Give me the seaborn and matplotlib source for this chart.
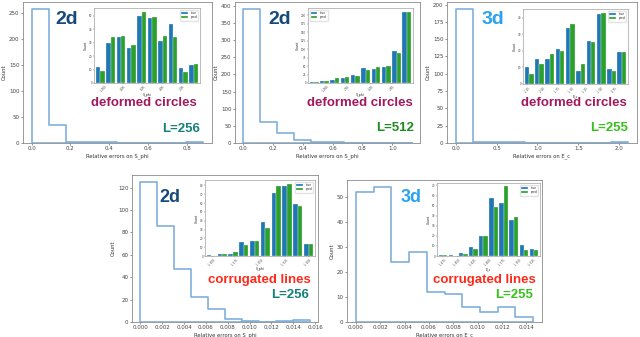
import numpy as np
import pandas as pd
import matplotlib
matplotlib.use("Agg")
import matplotlib.pyplot as plt
import seaborn as sns

# ---------------- data ----------------
# main histograms: counts per bin, upper edge of the binned range
h1_counts = [258, 35, 2, 2, 1, 0, 0, 0, 0, 1]
h1_max = 0.885
h2_counts = [392, 60, 28, 10, 3, 2, 1, 1, 0, 1]
h2_max = 1.13
h3_counts = [194, 2, 1, 1, 0, 0, 0, 0, 0, 1]
h3_max = 2.11
h4_counts = [125, 86, 47, 22, 12, 3, 1, 0, 1, 2]
h4_max = 0.0155
h5_counts = [52, 54, 24, 28, 12, 11, 6, 4, 6, 2]
h5_max = 0.01455

# inset grouped histograms (true vs pred)
i1_true = [12, 30, 34, 26, 50, 48, 31, 44, 11, 13]
i1_pred = [9, 34, 35, 28, 53, 49, 35, 34, 8, 14]
i1_ticks = ["-1000", "-800", "-600", "-400", "-200", "0"]
i2_true = [4, 7, 10, 16, 23, 45, 42, 47, 94, 210]
i2_pred = [2, 7, 14, 19, 20, 38, 46, 50, 90, 211]
i2_ticks = ["-1000", "-750", "-500", "-250", "0"]
i3_true = [10, 15, 15, 21, 34, 8, 26, 42, 9, 19]
i3_pred = [6, 12, 18, 20, 36, 12, 25, 43, 8, 19]
i3_ticks = ["-2.25", "-2.00", "-1.75", "-1.50", "-1.25", "-1.00", "-0.75", "-0.5"]
i4_true = [1, 2, 2, 16, 17, 38, 71, 79, 59, 14]
i4_pred = [0, 2, 4, 12, 17, 32, 79, 82, 57, 14]
i4_ticks = ["-1.600", "-1.575", "-1.550", "-1.525", "-1.500"]
i5_true = [1, 1, 3, 9, 20, 58, 53, 36, 11, 7]
i5_pred = [1, 0, 2, 7, 20, 49, 69, 39, 6, 6]
i5_ticks = ["-1.475", "-1.450", "-1.425", "-1.400", "-1.375", "-1.350", "-1.325"]

series_names = ["true", "pred"]

# ---------------- style ----------------
sns.set_style("ticks")
plt.rcParams['font.family'] = ['DejaVu Sans']

W, H = 640, 337
fig = plt.figure(figsize=(6.4, 3.37), dpi=100)


def rect(l, t, r, b):
    return [l / W, 1 - b / H, (r - l) / W, (b - t) / H]


SPINE = "#8a8a8a"


def style_axes(ax, fs, lw=0.6):
    for s in ax.spines.values():
        s.set_visible(True)
        s.set_color(SPINE)
        s.set_linewidth(lw)
    ax.tick_params(labelsize=fs, length=1.5, width=0.4, colors="#444444", pad=1)


def main_hist(r, counts, xmax, xlabel):
    ax = fig.add_axes(rect(*r))
    edges = np.linspace(0, xmax, len(counts) + 1)
    centers = (edges[:-1] + edges[1:]) / 2
    df = pd.DataFrame({"x": centers, "w": np.asarray(counts, dtype=float)})
    sns.histplot(data=df, x="x", weights="w", bins=list(edges), element="step",
                 fill=True, facecolor="none", edgecolor="#7fb0dc",
                 color="#7fb0dc", linewidth=1.2, ax=ax)
    ax.set_xlabel(xlabel, fontsize=3.8, color="#333333", labelpad=1.5)
    ax.set_ylabel("Count", fontsize=3.8, color="#333333", labelpad=1.5)
    style_axes(ax, 4.0)
    return ax


def inset(r, true_v, pred_v, ticklabels, tickpos, xlabel, loc):
    ax = fig.add_axes(rect(*r))
    n = len(true_v)
    df = pd.DataFrame({
        "bin": list(range(n)) * 2,
        "count": list(true_v) + list(pred_v),
        "kind": [series_names[0]] * n + [series_names[1]] * n,
    })
    sns.barplot(data=df, x="bin", y="count", hue="kind",
                palette=["#1f77b4", "#2ca02c"], saturation=1, width=0.85,
                edgecolor="white", linewidth=0.2, ax=ax)
    ax.set_xticks(tickpos)
    ax.set_xticklabels(ticklabels, rotation=45, fontsize=1.9)
    ax.set_xlim(-0.6, n - 0.4)
    ax.set_xlabel(xlabel, fontsize=2.3, labelpad=0.2)
    ax.set_ylabel("Count", fontsize=2.3, labelpad=0.5)
    style_axes(ax, 2.0, lw=0.4)
    ax.tick_params(length=1, width=0.3, pad=0.4)
    ax.legend(fontsize=2.2, loc=loc, frameon=True, handlelength=2.2,
              borderpad=0.4, labelspacing=0.2, edgecolor="#dddddd")
    return ax


def label(x, y, s, color, size):
    fig.text(x / W, 1 - y / H, s, color=color, fontsize=size,
             fontweight="bold", family="Liberation Sans",
             ha="center", va="center")


NAVY, LBLUE = "#17497a", "#2aa3ee"
MAROON, RED = "#a01a5c", "#ff2a1a"
TEAL, GREEN, LGREEN = "#13807a", "#1e8c1e", "#36c21c"

# panel 1
main_hist((23, 2, 212, 143), h1_counts, h1_max, "Relative errors on S_phi")
inset((94, 8, 200, 83), i1_true, i1_pred, i1_ticks,
      [0.33, 2.2, 4.1, 6.0, 7.9, 9.8], "S_phi", "upper right")
label(67, 20, "2d", NAVY, 14)
label(144, 103, "deformed circles", MAROON, 9.5)
label(181, 129, "L=256", TEAL, 9.5)

# panel 2
main_hist((235, 2, 420, 143), h2_counts, h2_max, "Relative errors on S_phi")
inset((308, 8, 413, 83), i2_true, i2_pred, i2_ticks,
      [1.1, 3.2, 5.5, 7.6, 9.65], "S_phi", "upper left")
label(280, 20, "2d", NAVY, 14)
label(360, 103, "deformed circles", MAROON, 9.5)
label(395, 128, "L=512", GREEN, 9.5)

# panel 3
main_hist((447, 2, 637, 143), h3_counts, h3_max, "Relative errors on E_c")
inset((523, 9, 628, 84), i3_true, i3_pred, i3_ticks,
      [-0.17, 1.33, 2.77, 4.1, 5.5, 6.9, 8.3, 9.67], "E_c", "upper right")
label(493, 20, "3d", LBLUE, 14)
label(574, 103, "deformed circles", MAROON, 9.5)
label(609, 128, "L=255", LGREEN, 9.5)

# panel 4
main_hist((132, 175, 318, 322), h4_counts, h4_max, "Relative errors on S_phi")
inset((205, 180, 315, 256), i4_true, i4_pred, i4_ticks,
      [0.1, 2.2, 4.5, 6.8, 9.0], "S_phi", "upper right")
label(170, 197, "2d", NAVY, 13)
label(259, 280, "corrugated lines", RED, 9.5)
label(290, 295, "L=256", TEAL, 9.5)

# panel 5
main_hist((347, 180, 542, 322), h5_counts, h5_max, "Relative errors on E_c")
inset((437, 183, 540, 256), i5_true, i5_pred, i5_ticks,
      [0.0, 1.45, 2.96, 4.48, 5.9, 7.4, 8.86], "E_c", "upper right")
label(411, 198, "3d", LBLUE, 13)
label(484, 280, "corrugated lines", RED, 9.5)
label(514, 295, "L=255", LGREEN, 9.5)

fig.savefig("out.png", dpi=100)
